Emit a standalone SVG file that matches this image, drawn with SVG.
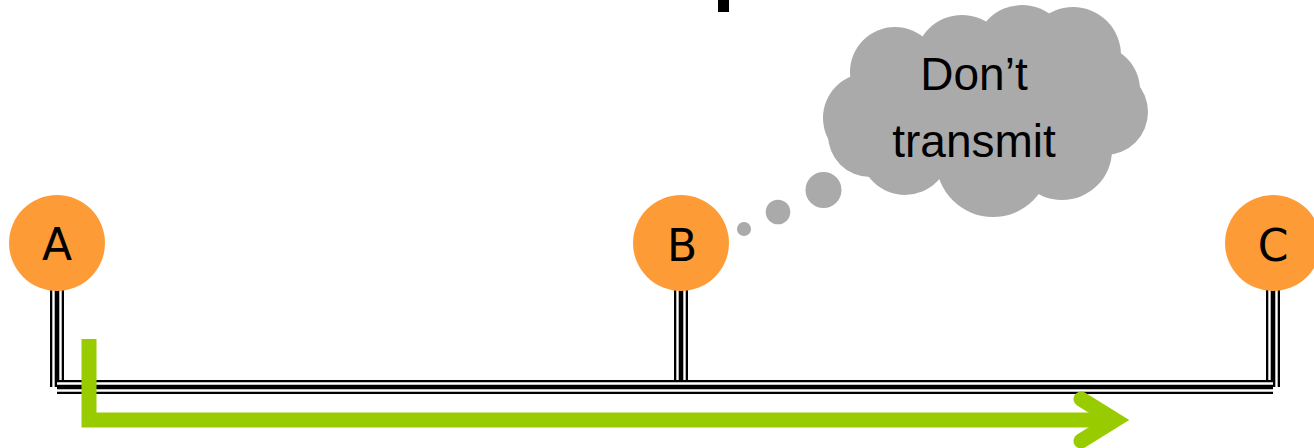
<svg xmlns="http://www.w3.org/2000/svg" xmlns:xlink="http://www.w3.org/1999/xlink" width="1314" height="448" viewBox="0 0 1314 448">
<defs>
<style>
.o{fill:none;stroke:#000;stroke-width:14}
.w{fill:none;stroke:#fff;stroke-width:9.4}
.m{fill:none;stroke:#000;stroke-width:4.6}
.node{fill:#fd9b37}
.lbl{font-family:"Comic Sans MS","DejaVu Sans",sans-serif;font-size:44px;fill:#000;text-anchor:middle}
.cloud{fill:#aaaaaa}
.ct{font-family:"Liberation Sans",Arial,sans-serif;font-size:46px;fill:#000;text-anchor:middle}
.green{fill:none;stroke:#99cc00;stroke-width:15}
</style>
<path id="vA" d="M57 280 V387"/>
<path id="vB" d="M681 280 V387"/>
<path id="vC" d="M1273 280 V387"/>
<path id="bus" d="M57 387 H1273"/>
</defs>
<rect x="718" y="0" width="11" height="12" fill="#000"/>
<g id="connectors">
<g id="link-A"><use href="#vA" class="o"/><use href="#vA" class="w"/><use href="#vA" class="m"/></g>
<g id="link-B"><use href="#vB" class="o"/><use href="#vB" class="w"/><use href="#vB" class="m"/></g>
<g id="link-C"><use href="#vC" class="o"/><use href="#vC" class="w"/><use href="#vC" class="m"/></g>
<g id="bus-line"><use href="#bus" class="o"/><use href="#bus" class="w"/><use href="#bus" class="m"/></g>
</g>
<g id="node-A"><circle class="node" cx="57" cy="243" r="48"/><text class="lbl" x="57" y="260">A</text></g>
<g id="node-B"><circle class="node" cx="681" cy="243" r="48"/><text class="lbl" x="682" y="261">B</text></g>
<g id="node-C"><circle class="node" cx="1273" cy="243" r="48"/><text class="lbl" x="1273" y="261">C</text></g>
<g id="transmission">
<path class="green" d="M89 339 V420 H1115" stroke-linejoin="miter"/>
<path class="green" d="M1081 399 L1115 420 L1081 441" stroke-linecap="round" stroke-linejoin="miter"/>
</g>
<g id="thought">
<circle class="cloud" cx="744" cy="229" r="7"/>
<circle class="cloud" cx="778" cy="212" r="12.3"/>
<circle class="cloud" cx="823.5" cy="190" r="18"/>
<ellipse class="cloud" cx="985" cy="110" rx="120" ry="70"/>
<circle class="cloud" cx="868" cy="118" r="45"/>
<circle class="cloud" cx="895" cy="72" r="45"/>
<circle class="cloud" cx="962" cy="62" r="47"/>
<circle class="cloud" cx="1022" cy="52" r="47"/>
<circle class="cloud" cx="1073" cy="55" r="48"/>
<circle class="cloud" cx="1095" cy="90" r="45"/>
<circle class="cloud" cx="1105" cy="112" r="43"/>
<circle class="cloud" cx="1062" cy="150" r="50"/>
<circle class="cloud" cx="993" cy="160" r="57"/>
<circle class="cloud" cx="905" cy="150" r="45"/>
<circle class="cloud" cx="870" cy="135" r="42"/>
<text class="ct" x="974" y="90">Don’t</text>
<text class="ct" x="974" y="157">transmit</text>
</g>
</svg>
